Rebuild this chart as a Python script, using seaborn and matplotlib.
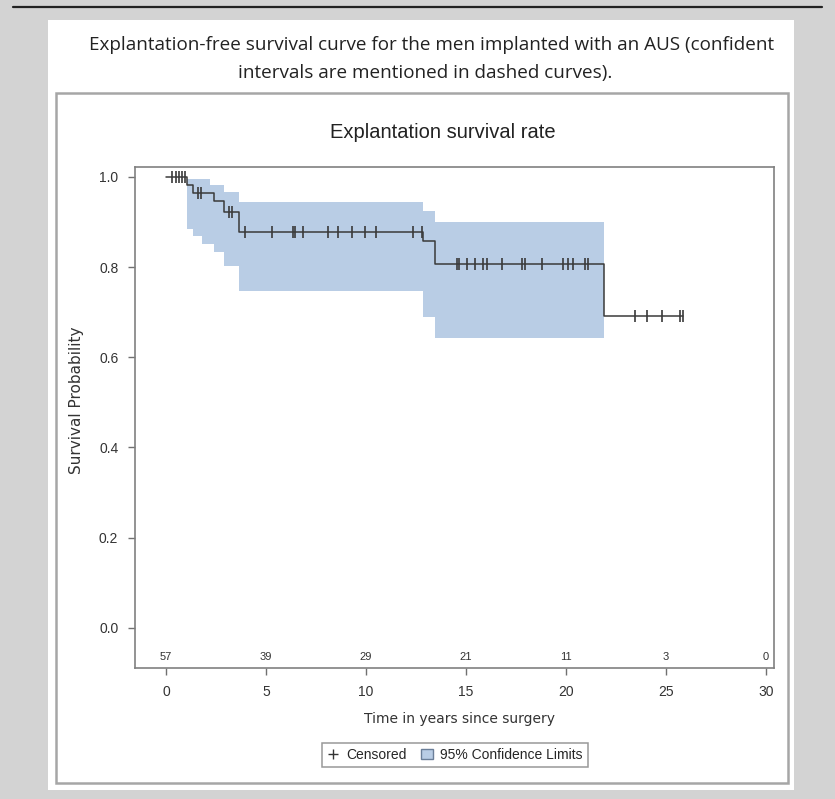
import numpy as np
import matplotlib
matplotlib.use("Agg")
import matplotlib.pyplot as plt
from matplotlib.patches import Rectangle, Patch
from matplotlib.lines import Line2D
import seaborn as sns

# Kaplan-Meier step curve (years, survival probability)
km_time = [0.0, 1.05, 1.35, 2.4, 2.9, 3.67, 12.85, 13.45, 21.9, 25.85]
km_surv = [1.0, 0.982, 0.965, 0.947, 0.923, 0.877, 0.858, 0.807, 0.692, 0.692]

# 95% confidence limits (step-post)
ci_time = [1.05, 1.35, 1.8, 2.2, 2.4, 2.9, 3.67, 12.85, 13.45, 21.9]
ci_upper = [0.996, 0.996, 0.996, 0.981, 0.981, 0.966, 0.944, 0.925, 0.90, 0.90]
ci_lower = [0.884, 0.87, 0.851, 0.851, 0.833, 0.803, 0.748, 0.69, 0.642, 0.642]

# Censoring times
censor_time = [0.3, 0.5, 0.65, 0.8, 0.95, 1.6, 1.75, 3.15, 3.3,
               3.95, 5.3, 6.35, 6.45, 6.85, 8.1, 8.6, 9.3, 9.95, 10.5, 12.35,
               12.8, 14.57, 14.67, 15.03, 15.45, 15.87, 16.03, 16.78, 17.78,
               17.95, 18.78, 19.87, 20.12, 20.37, 20.95, 21.12, 23.45, 24.03,
               24.78, 25.7, 25.85]

# Number at risk
risk_time = [0, 5, 10, 15, 20, 25, 30]
risk_n = [57, 39, 29, 21, 11, 3, 0]

x_ticks = [0, 5, 10, 15, 20, 25, 30]
y_ticks = [0.0, 0.2, 0.4, 0.6, 0.8, 1.0]

caption_lines = ["Explantation-free survival curve for the men implanted with an AUS (confident",
                 "intervals are mentioned in dashed curves)."]
title = "Explantation survival rate"
xlabel = "Time in years since surgery"
ylabel = "Survival Probability"

sns.set_style("white")
plt.rcParams["font.family"] = ["DejaVu Sans"]
narrow = ["Liberation Sans", "DejaVu Sans"]

W, H = 835, 799
fig = plt.figure(figsize=(W / 100, H / 100), dpi=100, facecolor="#d3d3d3")


def fx(x):
    return x / W


def fy(y):
    return 1 - y / H


def box(x0, y0, x1, y1, **kw):
    fig.add_artist(Rectangle((fx(x0), fy(y1)), fx(x1) - fx(x0), fy(y0) - fy(y1),
                             transform=fig.transFigure, **kw))


# page rule and white panel
fig.add_artist(Line2D([fx(13), fx(822)], [fy(7), fy(7)], color="#222222", lw=1.6,
                      transform=fig.transFigure))
box(48, 20, 794, 790, facecolor="white", edgecolor="none", zorder=0)
box(56, 93, 788, 783, facecolor="none", edgecolor="#a6a6a6", lw=1.8, zorder=1)

fig.text(fx(432), fy(45), caption_lines[0], ha="center", va="center",
         fontsize=13.6, family=["Open Sans", "DejaVu Sans"], color="#222222")
fig.text(fx(425), fy(73), caption_lines[1], ha="center", va="center",
         fontsize=13.6, family=["Open Sans", "DejaVu Sans"], color="#222222")
fig.text(fx(443), fy(133), title, ha="center", va="center",
         fontsize=14.5, family=narrow, color="#222222")

ax = fig.add_axes([fx(135), fy(668), fx(774) - fx(135), fy(167) - fy(668)])
ax.set_facecolor("white")

band_color = "#b9cde5"
ax.fill_between(ci_time, ci_lower, ci_upper, step="post", color=band_color,
                linewidth=0, zorder=1)

sns.lineplot(x=km_time, y=km_surv, drawstyle="steps-post", estimator=None,
             color="#3a3a3a", linewidth=1.1, ax=ax, zorder=3)

idx = np.searchsorted(km_time, censor_time, side="right") - 1
censor_surv = np.asarray(km_surv)[idx]
sns.scatterplot(x=censor_time, y=censor_surv, marker="|", s=70, color="#3a3a3a",
                linewidth=1.2, ax=ax, zorder=4)

for t, n in zip(risk_time, risk_n):
    ax.text(t, -0.064, str(n), ha="center", va="center", fontsize=8,
            family=narrow, color="#333333")

ax.set_xlim(-1.55, 30.4)
ax.set_ylim(-0.089, 1.022)
ax.set_xticks(x_ticks)
ax.set_yticks(y_ticks)
ax.set_xticklabels([str(v) for v in x_ticks], family=narrow, fontsize=10)
ax.set_yticklabels([f"{v:.1f}" for v in y_ticks], family=narrow, fontsize=10)
ax.tick_params(axis="both", direction="out", length=5, width=1, color="#707070",
               labelcolor="#333333", pad=7, left=True, bottom=True)
for s in ax.spines.values():
    s.set_color("#808080")
    s.set_linewidth(1.2)

fig.text(fx(460), fy(719), xlabel, ha="center", va="center", fontsize=10,
         family=["DejaVu Sans"], color="#333333")
fig.text(fx(76), fy(400), ylabel, ha="center", va="center", fontsize=11,
         family=["DejaVu Sans"], color="#333333", rotation=90)

handles = [Line2D([], [], marker="+", linestyle="none", color="#333333",
                  markersize=7, label="Censored"),
           Patch(facecolor=band_color, edgecolor="#6b7f99", label="95% Confidence Limits")]
leg = fig.legend(handles=handles, loc="center", bbox_to_anchor=(fx(455), fy(755)),
                 ncol=2, frameon=True, fancybox=False, edgecolor="#808080",
                 prop={"family": narrow, "size": 10}, handlelength=0.9,
                 handletextpad=0.5, columnspacing=1.0, borderpad=0.35)
leg.get_frame().set_linewidth(1.1)

fig.savefig("out.png", dpi=100, facecolor=fig.get_facecolor())
